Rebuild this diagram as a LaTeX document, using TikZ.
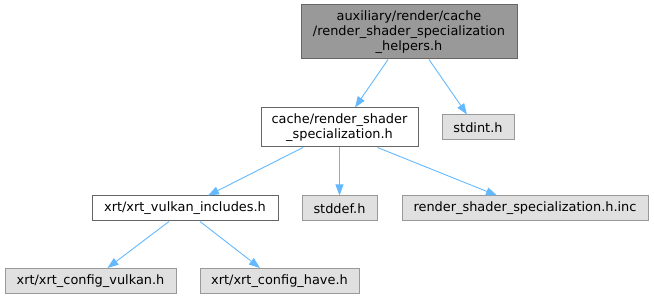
\documentclass[tikz,border=0pt]{standalone}
\usepackage{fontspec}
\setmainfont{DejaVu Sans}
\usepackage{tikz}
\usetikzlibrary{arrows.meta, positioning}
\definecolor{edgeblue}{HTML}{63B8FF}
\definecolor{rootfill}{HTML}{999999}
\definecolor{darkline}{HTML}{666666}
\definecolor{sysfill}{HTML}{E0E0E0}
\definecolor{sysline}{HTML}{999999}

\begin{document}
\begin{tikzpicture}[x=1pt, y=1pt, font=\fontsize{12.9}{15}\selectfont,
    hbox/.style={draw=darkline, line width=1pt, inner sep=0pt, align=center, minimum height=25pt},
    rootbox/.style={hbox, fill=rootfill, minimum height=54pt},
    filebox/.style={hbox, fill=white},
    sysbox/.style={hbox, draw=sysline, fill=sysfill},
    dep/.style={draw=edgeblue, line width=0.9pt, -{Triangle[length=11pt,width=8pt]}}]
    \useasboundingbox (0,0) rectangle (654,300);
    \node[rootbox, minimum width=216pt] (helpers) at (409,268) {auxiliary/render/cache\\/render\_shader\_specialization\\\_helpers.h};
    \node[filebox, minimum width=157pt, minimum height=39pt] (spec) at (339.5,172.5) {cache/render\_shader\\\_specialization.h};
    \node[sysbox, minimum width=72pt] (stdint) at (478,172.5) {stdint.h};
    \node[filebox, minimum width=186pt] (vkinc) at (185,91.5) {xrt/xrt\_vulkan\_includes.h};
    \node[sysbox, minimum width=75pt] (stddef) at (339.5,91.5) {stddef.h};
    \node[sysbox, minimum width=246pt] (specinc) at (525,91.5) {render\_shader\_specialization.h.inc};
    \node[sysbox, minimum width=171pt] (cfgvk) at (90.5,19) {xrt/xrt\_config\_vulkan.h};
    \node[sysbox, minimum width=159pt] (cfghave) at (279.5,19) {xrt/xrt\_config\_have.h};
    \draw[dep] ([xshift=-21pt]helpers.south) -- ([xshift=15.5pt]spec.north);
    \draw[dep] ([xshift=20pt]helpers.south) -- ([xshift=-11pt]stdint.north);
    \draw[dep] ([xshift=-36.5pt]spec.south) -- ([xshift=23pt]vkinc.north);
    \draw[dep] (spec.south) -- (stddef.north);
    \draw[dep] ([xshift=38pt]spec.south) -- ([xshift=-28pt]specinc.north);
    \draw[dep] ([xshift=-16pt]vkinc.south) -- ([xshift=17pt]cfgvk.north);
    \draw[dep] ([xshift=15pt]vkinc.south) -- ([xshift=-19.5pt]cfghave.north);
\end{tikzpicture}
\end{document}
